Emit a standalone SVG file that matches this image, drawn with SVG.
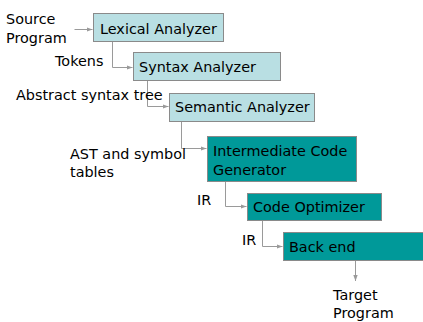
<svg xmlns="http://www.w3.org/2000/svg" width="423" height="322" viewBox="0 0 423 322">
  <style>
    .lbl { font-family: "DejaVu Sans", Verdana, sans-serif; font-size: 14.4px; fill: #000; }
    .light { fill: #b9dfe3; stroke: #8a8a8a; stroke-width: 1; }
    .dark { fill: #009999; stroke: #8a8a8a; stroke-width: 1; }
    .wire { fill: none; stroke: #9a9a9a; stroke-width: 1; marker-end: url(#tip); }
  </style>
  <defs>
    <marker id="tip" viewBox="0 0 6 6" refX="6" refY="3" markerWidth="6" markerHeight="6" markerUnits="userSpaceOnUse" orient="auto">
      <path d="M0,0.8 L6,3 L0,5.2 z" fill="#9a9a9a"/>
    </marker>
  </defs>
  <rect width="423" height="322" fill="#fff"/>

  <!-- connectors -->
  <g id="connectors">
    <path class="wire" d="M74.5,29.5 H92.5"/>
    <path class="wire" d="M112.5,41.5 V67.5 H132.5"/>
    <path class="wire" d="M147.5,80.5 V106.5 H168.5"/>
    <path class="wire" d="M181.5,121.5 V148.5 H206.5"/>
    <path class="wire" d="M225.5,181.5 V206.5 H246.5"/>
    <path class="wire" d="M262.5,220.5 V246.5 H282.5"/>
    <path class="wire" d="M355.5,260.5 V281"/>
  </g>

  <!-- free labels -->
  <g id="source">
    <text class="lbl" x="6" y="24">Source</text>
    <text class="lbl" x="6" y="43">Program</text>
  </g>
  <g id="label-tokens"><text class="lbl" x="55" y="66">Tokens</text></g>
  <g id="label-ast"><text class="lbl" x="16" y="100">Abstract syntax tree</text></g>
  <g id="label-ast-sym">
    <text class="lbl" x="70" y="159">AST and symbol</text>
    <text class="lbl" x="70" y="177">tables</text>
  </g>
  <g id="label-ir1"><text class="lbl" x="197" y="205">IR</text></g>
  <g id="label-ir2"><text class="lbl" x="242" y="245">IR</text></g>
  <g id="target">
    <text class="lbl" x="333" y="300">Target</text>
    <text class="lbl" x="333" y="318">Program</text>
  </g>

  <!-- stages -->
  <g id="lexical">
    <rect class="light" x="93.5" y="13.5" width="130" height="28"/>
    <text class="lbl" x="100" y="34">Lexical Analyzer</text>
  </g>
  <g id="syntax">
    <rect class="light" x="133.5" y="52.5" width="147" height="28"/>
    <text class="lbl" x="139" y="72">Syntax Analyzer</text>
  </g>
  <g id="semantic">
    <rect class="light" x="169.5" y="93.5" width="145" height="28"/>
    <text class="lbl" x="175" y="112">Semantic Analyzer</text>
  </g>
  <g id="intermediate">
    <rect class="dark" x="207.5" y="136.5" width="149" height="45"/>
    <text class="lbl" x="213" y="156">Intermediate Code</text>
    <text class="lbl" x="213" y="175">Generator</text>
  </g>
  <g id="optimizer">
    <rect class="dark" x="247.5" y="193.5" width="134" height="27"/>
    <text class="lbl" x="253" y="212">Code Optimizer</text>
  </g>
  <g id="backend">
    <rect class="dark" x="283.5" y="232.5" width="140" height="28"/>
    <text class="lbl" x="289" y="252">Back end</text>
  </g>
</svg>
